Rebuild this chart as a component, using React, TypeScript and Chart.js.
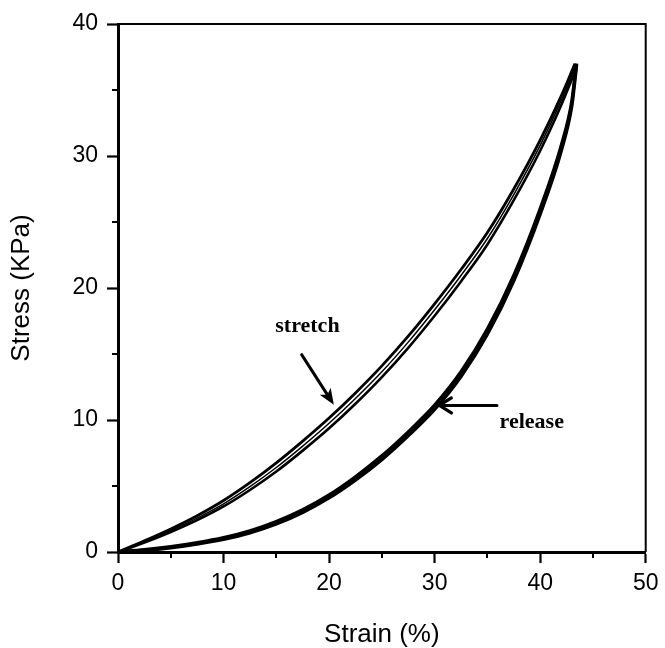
import React, { useEffect, useRef } from 'react';
import { Chart, registerables } from 'chart.js';

Chart.register(...registerables);

// ---- data ----
const stretchStrain = [0, 2.5, 5, 7.5, 10, 12.5, 15, 17.5, 20, 22.5, 25, 27.5, 30, 32.5, 35, 37.5, 40, 42, 43.3];
const stretchCycle1 = [0, 0.85, 1.75, 2.75, 3.9, 5.25, 6.75, 8.4, 10.15, 12.05, 14.1, 16.35, 18.8, 21.4, 24.2, 27.5, 31.2, 34.56, 37.0];
const stretchCycle2 = [0, 0.77, 1.63, 2.57, 3.65, 4.95, 6.4, 8.02, 9.75, 11.63, 13.65, 15.9, 18.35, 20.95, 23.75, 27.08, 30.8, 34.21, 36.7];
const stretchCycle3 = [0, 0.71, 1.51, 2.41, 3.45, 4.7, 6.1, 7.68, 9.37, 11.23, 13.25, 15.47, 17.9, 20.5, 23.3, 26.65, 30.4, 33.86, 36.4];

const releaseStrain = [0, 2.5, 5, 7.5, 10, 12.5, 15, 17.5, 20, 22.5, 25, 27.5, 30, 32.5, 35, 37.5, 40, 42, 43, 43.3, 43.45];
const releaseCycle1 = [0, 0.125, 0.325, 0.6, 0.95, 1.45, 2.125, 3.0, 4.1, 5.45, 7.0, 8.8, 10.8, 13.3, 16.5, 20.55, 25.6, 30.4, 33.8, 35.8, 36.9];
const releaseCycle2 = [0, 0.175, 0.405, 0.7, 1.08, 1.6, 2.305, 3.2, 4.32, 5.7, 7.28, 9.1, 11.12, 13.65, 16.88, 20.95, 26.0, 30.8, 34.15, 36.1, 37.0];

const xTickValues = [0, 10, 20, 30, 40, 50];
const yTickValues = [0, 10, 20, 30, 40];
const xMinorTicks = [5, 15, 25, 35, 45];
const yMinorTicks = [5, 15, 25, 35];

const xTitle = 'Strain (%)';
const yTitle = 'Stress (KPa)';

// annotation anchors in data units (text x = centre, y = baseline)
const stretchLabel = { text: 'stretch', x: 17.95, y: 16.65 };
const stretchArrow = { fromX: 17.4, fromY: 14.95, toX: 20.45, toY: 11.15 };
const releaseLabel = { text: 'release', x: 39.2, y: 9.4 };
const releaseArrow = { fromX: 35.9, fromY: 11.1, toX: 30.45, toY: 11.1 };

const sansFont = "'Liberation Sans', Arial, sans-serif";
const serifFont = "'Liberation Serif', 'Times New Roman', serif";

const toPoints = (xs: number[], ys: number[]) => xs.map((x, i) => ({ x, y: ys[i] }));

const decorPlugin = {
  id: 'decor',
  afterDraw(chart: any) {
    const { ctx, chartArea } = chart;
    const xs = chart.scales.x;
    const ys = chart.scales.y;
    ctx.save();
    ctx.strokeStyle = '#000';
    ctx.fillStyle = '#000';
    // frame top & right
    ctx.lineWidth = 2;
    ctx.beginPath();
    ctx.moveTo(chartArea.left, chartArea.top);
    ctx.lineTo(chartArea.right, chartArea.top);
    ctx.lineTo(chartArea.right, chartArea.bottom);
    ctx.stroke();
    // minor ticks
    ctx.lineWidth = 2;
    ctx.beginPath();
    xMinorTicks.forEach((v) => {
      const px = Math.round(xs.getPixelForValue(v));
      ctx.moveTo(px, chartArea.bottom);
      ctx.lineTo(px, chartArea.bottom + 6);
    });
    yMinorTicks.forEach((v) => {
      const py = Math.round(ys.getPixelForValue(v));
      ctx.moveTo(chartArea.left, py);
      ctx.lineTo(chartArea.left - 6, py);
    });
    ctx.stroke();

    // labels
    ctx.font = `bold 22px ${serifFont}`;
    ctx.textAlign = 'center';
    ctx.textBaseline = 'alphabetic';
    ctx.fillText(stretchLabel.text, xs.getPixelForValue(stretchLabel.x), ys.getPixelForValue(stretchLabel.y));
    ctx.fillText(releaseLabel.text, xs.getPixelForValue(releaseLabel.x), ys.getPixelForValue(releaseLabel.y));

    // stretch arrow (filled head)
    {
      const x1 = xs.getPixelForValue(stretchArrow.fromX);
      const y1 = ys.getPixelForValue(stretchArrow.fromY);
      const x2 = xs.getPixelForValue(stretchArrow.toX);
      const y2 = ys.getPixelForValue(stretchArrow.toY);
      const ang = Math.atan2(y2 - y1, x2 - x1);
      const hl = 16;
      const hw = 6.5;
      ctx.lineWidth = 3;
      ctx.lineCap = 'round';
      ctx.beginPath();
      ctx.moveTo(x1, y1);
      ctx.lineTo(x2 - Math.cos(ang) * hl * 0.7, y2 - Math.sin(ang) * hl * 0.7);
      ctx.stroke();
      ctx.beginPath();
      ctx.moveTo(x2, y2);
      ctx.lineTo(x2 - Math.cos(ang) * hl - Math.sin(ang) * hw, y2 - Math.sin(ang) * hl + Math.cos(ang) * hw);
      ctx.lineTo(x2 - Math.cos(ang) * hl * 0.75, y2 - Math.sin(ang) * hl * 0.75);
      ctx.lineTo(x2 - Math.cos(ang) * hl + Math.sin(ang) * hw, y2 - Math.sin(ang) * hl - Math.cos(ang) * hw);
      ctx.closePath();
      ctx.fill();
    }
    // release arrow (open chevron head)
    {
      const x1 = xs.getPixelForValue(releaseArrow.fromX);
      const y1 = ys.getPixelForValue(releaseArrow.fromY);
      const x2 = xs.getPixelForValue(releaseArrow.toX);
      const y2 = ys.getPixelForValue(releaseArrow.toY);
      const ang = Math.atan2(y2 - y1, x2 - x1);
      const hl = 12;
      const hw = 7.5;
      ctx.lineWidth = 3.2;
      ctx.lineCap = 'round';
      ctx.lineJoin = 'round';
      ctx.beginPath();
      ctx.moveTo(x1, y1);
      ctx.lineTo(x2, y2);
      ctx.moveTo(x2 - Math.cos(ang) * hl - Math.sin(ang) * hw, y2 - Math.sin(ang) * hl + Math.cos(ang) * hw);
      ctx.lineTo(x2, y2);
      ctx.lineTo(x2 - Math.cos(ang) * hl + Math.sin(ang) * hw, y2 - Math.sin(ang) * hl - Math.cos(ang) * hw);
      ctx.stroke();
    }
    ctx.restore();
  },
};

export default function App() {
  const canvasRef = useRef<HTMLCanvasElement | null>(null);

  useEffect(() => {
    if (!canvasRef.current) return;
    const line = (data: { x: number; y: number }[], width: number) => ({
      data,
      showLine: true,
      borderColor: '#000',
      backgroundColor: '#000',
      borderWidth: width,
      pointRadius: 0,
      fill: false,
      cubicInterpolationMode: 'monotone' as const,
    });
    const chart = new Chart(canvasRef.current, {
      type: 'scatter',
      data: {
        datasets: [
          line(toPoints(stretchStrain, stretchCycle1), 2.8),
          line(toPoints(stretchStrain, stretchCycle2), 1.5),
          line(toPoints(stretchStrain, stretchCycle3), 2.6),
          line(toPoints(releaseStrain, releaseCycle1), 3.4),
          line(toPoints(releaseStrain, releaseCycle2), 3.4),
        ],
      },
      options: {
        animation: false,
        responsive: false,
        maintainAspectRatio: false,
        layout: { padding: { top: 24, right: 15, left: 0, bottom: 0 } },
        plugins: { legend: { display: false }, tooltip: { enabled: false } },
        scales: {
          x: {
            type: 'linear',
            min: 0,
            max: 50,
            afterFit: (s: any) => {
              s.height = 96;
            },
            afterBuildTicks: (s: any) => {
              s.ticks = xTickValues.map((v) => ({ value: v }));
            },
            ticks: {
              color: '#000',
              font: { family: sansFont, size: 23 },
              padding: 6.5,
              maxRotation: 0,
              autoSkip: false,
            },
            grid: {
              drawOnChartArea: false,
              drawTicks: true,
              tickLength: 11,
              tickWidth: 2.2,
              tickColor: '#000',
            },
            border: { display: true, color: '#000', width: 3 },
            title: {
              display: true,
              text: xTitle,
              color: '#000',
              font: { family: sansFont, size: 26, lineHeight: 1 },
              padding: { top: 0, bottom: 0 },
            },
          },
          y: {
            type: 'linear',
            min: 0,
            max: 40,
            afterFit: (s: any) => {
              s.width = 118;
            },
            afterBuildTicks: (s: any) => {
              s.ticks = yTickValues.map((v) => ({ value: v }));
            },
            ticks: {
              color: '#000',
              font: { family: sansFont, size: 23 },
              padding: 9,
              autoSkip: false,
            },
            grid: {
              drawOnChartArea: false,
              drawTicks: true,
              tickLength: 11,
              tickWidth: 2.2,
              tickColor: '#000',
            },
            border: { display: true, color: '#000', width: 3 },
            title: {
              display: true,
              text: yTitle,
              color: '#000',
              font: { family: sansFont, size: 26, lineHeight: 1 },
              padding: { top: 8.5, bottom: 0 },
            },
          },
        },
      },
      plugins: [decorPlugin],
    });
    return () => chart.destroy();
  }, []);

  return (
    <div style={{ position: 'absolute', left: 0, top: 0, width: 665, height: 648, background: '#fff' }}>
      <canvas ref={canvasRef} width={665} height={648} style={{ display: 'block' }} />
    </div>
  );
}
